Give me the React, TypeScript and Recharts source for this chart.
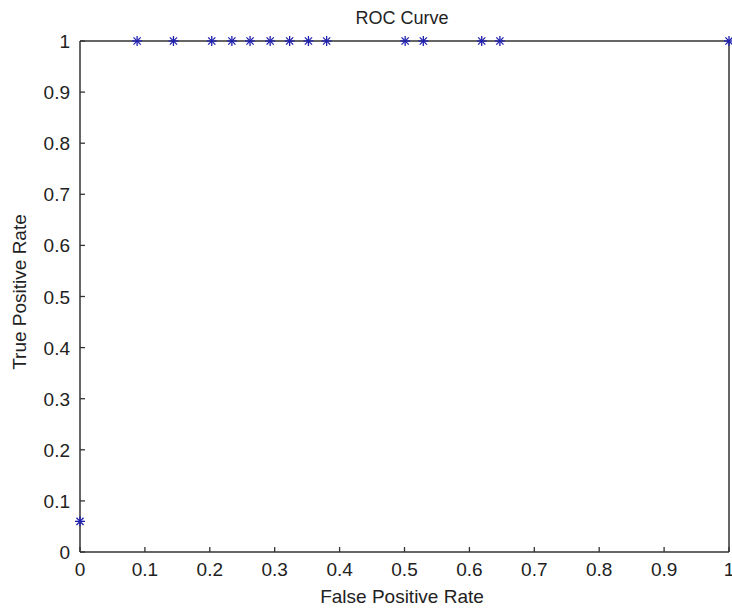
import React from 'react';
import { ScatterChart, Scatter, XAxis, YAxis, Label } from 'recharts';

const fpr = [0, 0.088, 0.144, 0.203, 0.234, 0.262, 0.293, 0.323, 0.352, 0.38, 0.501, 0.529, 0.619, 0.647, 1];
const tpr = [0.06, 1, 1, 1, 1, 1, 1, 1, 1, 1, 1, 1, 1, 1, 1];
const ticks = [0, 0.1, 0.2, 0.3, 0.4, 0.5, 0.6, 0.7, 0.8, 0.9, 1];

const points = fpr.map((x, i) => ({ x, y: tpr[i] }));

const FONT = '"Liberation Sans", Arial, Helvetica, sans-serif';
const AXIS = '#333333';
const MARK = '#2020b0';
const TXT = '#222';
const fmt = (v: number) => String(Number(Number(v).toFixed(1)));

const Star = (props: any) => {
  const { cx, cy } = props;
  if (cx == null || cy == null) return null;
  const r = 5;
  const d = 3.6;
  return (
    <g stroke={MARK} strokeWidth={1.3}>
      <line x1={cx} y1={cy - r} x2={cx} y2={cy + r} />
      <line x1={cx - r} y1={cy} x2={cx + r} y2={cy} />
      <line x1={cx - d} y1={cy - d} x2={cx + d} y2={cy + d} />
      <line x1={cx - d} y1={cy + d} x2={cx + d} y2={cy - d} />
    </g>
  );
};

const BottomTick = (p: any) => (
  <g>
    <line x1={p.x} y1={p.y} x2={p.x} y2={p.y - 5} stroke={AXIS} strokeWidth={1.3} />
    <text x={p.x} y={p.y + 24} textAnchor="middle" fontSize={19} fontFamily={FONT} fill={TXT}>
      {fmt(p.payload.value)}
    </text>
  </g>
);
const TopTick = (p: any) => (
  <line x1={p.x} y1={p.y} x2={p.x} y2={p.y + 5} stroke={AXIS} strokeWidth={1.3} />
);
const LeftTick = (p: any) => (
  <g>
    <line x1={p.x} y1={p.y} x2={p.x + 5} y2={p.y} stroke={AXIS} strokeWidth={1.3} />
    <text x={p.x - 10} y={p.y + 7} textAnchor="end" fontSize={19} fontFamily={FONT} fill={TXT}>
      {fmt(p.payload.value)}
    </text>
  </g>
);
const RightTick = (p: any) => (
  <line x1={p.x} y1={p.y} x2={p.x - 5} y2={p.y} stroke={AXIS} strokeWidth={1.3} />
);

const axisLine = { stroke: AXIS, strokeWidth: 1.5 };

export default function App() {
  return (
    <div style={{ position: 'absolute', left: 0, top: 0, background: '#fff' }}>
      <ScatterChart width={732} height={609} margin={{ top: 40, right: 2, bottom: 27, left: 20 }}>
        <XAxis
          xAxisId="b"
          type="number"
          dataKey="x"
          domain={[0, 1]}
          ticks={ticks}
          orientation="bottom"
          height={30}
          tickSize={0}
          tickMargin={0}
          axisLine={axisLine}
          tickLine={false}
          tick={BottomTick}
          interval={0}
        >
          <Label
            content={() => (
              <text x={402} y={603} textAnchor="middle" fontSize={19} fontFamily={FONT} fill={TXT}>
                False Positive Rate
              </text>
            )}
          />
        </XAxis>
        <XAxis
          xAxisId="t"
          type="number"
          dataKey="x"
          domain={[0, 1]}
          ticks={ticks}
          orientation="top"
          height={1}
          tickSize={0}
          tickMargin={0}
          axisLine={axisLine}
          tickLine={false}
          tick={TopTick}
          interval={0}
        >
          <Label
            content={() => (
              <text x={402} y={24} textAnchor="middle" fontSize={18} fontFamily={FONT} fill={TXT}>
                ROC Curve
              </text>
            )}
          />
        </XAxis>
        <YAxis
          yAxisId="l"
          type="number"
          dataKey="y"
          domain={[0, 1]}
          ticks={ticks}
          orientation="left"
          width={60}
          tickSize={0}
          tickMargin={0}
          axisLine={axisLine}
          tickLine={false}
          tick={LeftTick}
          interval={0}
        >
          <Label
            content={() => (
              <text
                x={19}
                y={292}
                textAnchor="middle"
                dominantBaseline="central"
                fontSize={19}
                fontFamily={FONT}
                fill={TXT}
                transform="rotate(-90, 19, 292)"
              >
                True Positive Rate
              </text>
            )}
          />
        </YAxis>
        <YAxis
          yAxisId="r"
          type="number"
          dataKey="y"
          domain={[0, 1]}
          ticks={ticks}
          orientation="right"
          width={1}
          tickSize={0}
          tickMargin={0}
          axisLine={axisLine}
          tickLine={false}
          tick={RightTick}
          interval={0}
        />
        <Scatter
          data={points}
          xAxisId="b"
          yAxisId="l"
          shape={Star}
          isAnimationActive={false}
        />
      </ScatterChart>
    </div>
  );
}
